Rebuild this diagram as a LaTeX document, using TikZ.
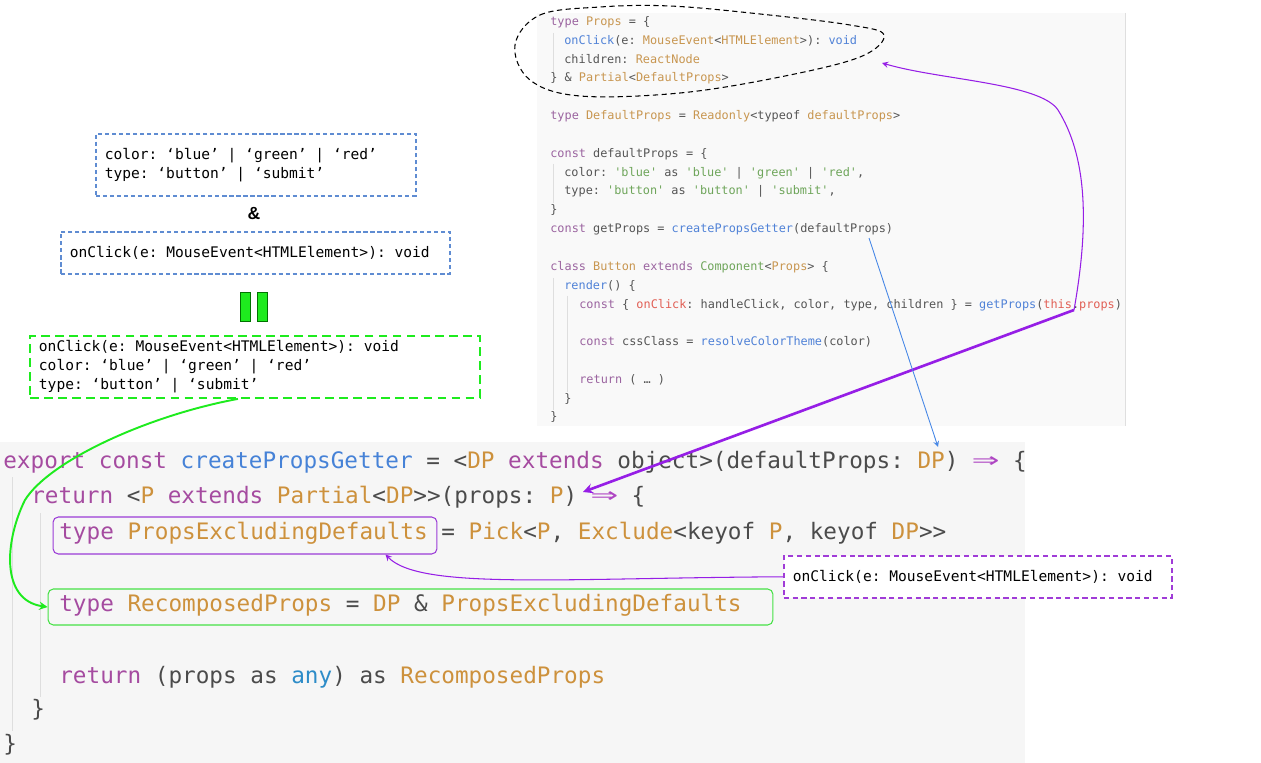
\documentclass[tikz,border=0pt]{standalone}
\usepackage{graphicx}
\usepackage{fontspec}
\setmonofont{DejaVu Sans Mono}
\newfontfamily\ampfont{Liberation Sans}
\usetikzlibrary{arrows, positioning}
\definecolor{panelgray}{RGB}{249,249,249}
\definecolor{mainpanel}{RGB}{246,246,246}
\definecolor{guidegray}{RGB}{222,222,222}
\definecolor{tkw}{RGB}{155,100,160}
\definecolor{tty}{RGB}{200,150,80}
\definecolor{tfn}{RGB}{80,130,215}
\definecolor{tstr}{RGB}{110,165,90}
\definecolor{tred}{RGB}{225,95,85}
\definecolor{tpl}{RGB}{85,85,85}
\definecolor{bkw}{RGB}{165,75,160}
\definecolor{bty}{RGB}{205,145,60}
\definecolor{bfn}{RGB}{70,130,215}
\definecolor{bpl}{RGB}{75,75,75}
\definecolor{bany}{RGB}{45,140,200}
\definecolor{barrow}{RGB}{175,70,195}
\definecolor{hintblue}{RGB}{95,140,210}
\definecolor{hintpurple}{RGB}{160,60,215}
\definecolor{hintgreen}{RGB}{30,235,30}
\definecolor{linkpurple}{RGB}{150,30,230}
\definecolor{linkblue}{RGB}{70,135,230}
\definecolor{boxpurple}{RGB}{155,60,215}
\definecolor{boxgreen}{RGB}{70,225,70}
\newcommand{\tkw}[1]{\textcolor{tkw}{#1}}
\newcommand{\tty}[1]{\textcolor{tty}{#1}}
\newcommand{\tfn}[1]{\textcolor{tfn}{#1}}
\newcommand{\tstr}[1]{\textcolor{tstr}{#1}}
\newcommand{\tred}[1]{\textcolor{tred}{#1}}
\newcommand{\bkw}[1]{\textcolor{bkw}{#1}}
\newcommand{\bty}[1]{\textcolor{bty}{#1}}
\newcommand{\bfn}[1]{\textcolor{bfn}{#1}}
\newcommand{\bany}[1]{\textcolor{bany}{#1}}
\newcommand{\fatarrow}{\textcolor{barrow}{\makebox[1.204em]{\scalebox{2.0}[1.2]{⇒}}}}

\begin{document}
\begin{tikzpicture}[
    x=0.02cm, y=-0.02cm,
    >=stealth,
    topcode/.style={anchor=base west, inner sep=0, text=tpl, font=\ttfamily\fontsize{6.75}{8}\selectfont},
    maincode/.style={anchor=base west, inner sep=0, text=bpl, font=\ttfamily\fontsize{12.9}{15}\selectfont},
    hintbox/.style={draw=hintblue, line width=0.9pt, dash pattern=on 2.4pt off 1.6pt, anchor=north west,
        align=left, inner xsep=0.18cm, inner ysep=0,
        font=\ttfamily\fontsize{8.3}{10.8}\selectfont,
        execute at begin node={\spaceskip=0pt\xspaceskip=0pt\relax}},
    mergedbox/.style={hintbox, draw=hintgreen, line width=1.1pt, dash pattern=on 5pt off 3pt},
    guide/.style={guidegray, line width=0.5pt},
    markbox/.style={draw, rounded corners=3pt, line width=0.6pt, inner sep=0},
    eqbar/.style={draw=green!45!black, fill=hintgreen, line width=0.5pt, inner sep=0,
        minimum width=0.2cm, minimum height=0.58cm},
    link/.style={->, linkpurple, line width=0.6pt},
    boldlink/.style={->, linkpurple, line width=1.5pt},
    bluelink/.style={->, linkblue, line width=0.5pt},
    greenlink/.style={->, hintgreen, line width=1.1pt}
]
    \useasboundingbox (0,0) rectangle (1261,763);

    % Panels
    \fill[panelgray] (537,13) rectangle (1125,426);
    \draw[gray!25] (1125,13) -- (1125,426);
    \fill[mainpanel] (0,442) rectangle (1025,763);

    % Indent guides
    \draw[guide] (553,33) -- (553,74);
    \draw[guide] (553,164) -- (553,203);
    \draw[guide] (553,278) -- (553,410);
    \draw[guide] (567,296) -- (567,392);
    \draw[guide] (12,477) -- (12,731);
    \draw[guide] (40,513) -- (40,697);

    % Component code (top right)
    \node[topcode] (propstype) at (550,26) {\tkw{type} \tty{Props} = \{};
    \node[topcode] (propsclick) at (564,45) {\tfn{onClick}(e: \tty{MouseEvent}<\tty{HTMLElement}>): \tfn{void}};
    \node[topcode] (propschildren) at (564,64) {children: \tty{ReactNode}};
    \node[topcode] (propsend) at (550,82) {\} \& \tty{Partial}<\tty{DefaultProps}>};
    \node[topcode] (defaultstype) at (550,120) {\tkw{type} \tty{DefaultProps} = \tty{Readonly}<typeof \tty{defaultProps}>};
    \node[topcode] (defaultsconst) at (550,158) {\tkw{const} defaultProps = \{};
    \node[topcode] (defaultscolor) at (564,177) {color: \tstr{'blue'} as \tstr{'blue'} | \tstr{'green'} | \tstr{'red'},};
    \node[topcode] (defaultskind) at (564,195) {type: \tstr{'button'} as \tstr{'button'} | \tstr{'submit'},};
    \node[topcode] (defaultsend) at (550,214) {\}};
    \node[topcode] (getprops) at (550,233) {\tkw{const} getProps = \tfn{createPropsGetter}(defaultProps)};
    \node[topcode] (buttonclass) at (550,271) {\tkw{class} \tty{Button} \tkw{extends} \tstr{Component}<\tty{Props}> \{};
    \node[topcode] (render) at (564,290) {\tfn{render}() \{};
    \node[topcode] (destructure) at (579,309) {\tkw{const} \{ \tred{onClick}: handleClick, color, type, children \} = \tfn{getProps}(\tred{this}.\tred{props})};
    \node[topcode] (cssclass) at (579,346) {\tkw{const} cssClass = \tfn{resolveColorTheme}(color)};
    \node[topcode] (renderreturn) at (579,384) {\tkw{return} ( … )};
    \node[topcode] (renderend) at (564,402) {\}};
    \node[topcode] (classend) at (550,420) {\}};

    % Hand drawn loop round Props
    \draw[black, line width=0.6pt, dash pattern=on 3pt off 2pt, tension=0.6]
        plot[smooth cycle] coordinates {(515,45) (540,15) (600,7) (670,6) (760,14) (850,25)
            (884,35) (860,57) (780,77) (680,93) (580,96) (530,80)};

    % Type breakdown (left)
    \node[hintbox, text width=6.04cm, minimum height=1.24cm] (defaultshint) at (95,133)
        {color: ‘blue’ | ‘green’ | ‘red’\\type: ‘button’ | ‘submit’};
    \node[font=\ampfont\bfseries\fontsize{10}{12}\selectfont, inner sep=0] (amp) at (254,214) {\&};
    \node[hintbox, text width=7.42cm, minimum height=0.84cm] (clickhint) at (60,231)
        {onClick(e: MouseEvent<HTMLElement>): void};
    \node[eqbar] (eqleft) at (245,306.5) {};
    \node[eqbar] (eqright) at (262.5,306.5) {};
    \node[mergedbox, text width=8.64cm, minimum height=1.24cm] (merged) at (29,335)
        {onClick(e: MouseEvent<HTMLElement>): void\\color: ‘blue’ | ‘green’ | ‘red’\\type: ‘button’ | ‘submit’};

    % Getter code (bottom)
    \node[maincode] (getterhead) at (3,468) {\bkw{export} \bkw{const} \bfn{createPropsGetter} = <\bty{DP} \bkw{extends} object>(defaultProps: \bty{DP}) \fatarrow{} \{};
    \node[maincode] (getterreturn) at (31,503) {\bkw{return} <\bty{P} \bkw{extends} \bty{Partial}<\bty{DP}>>(props: \bty{P}) \fatarrow{} \{};
    \node[maincode] (excltype) at (59,539) {\bkw{type} \bty{PropsExcludingDefaults} = \bty{Pick}<\bty{P}, \bty{Exclude}<keyof \bty{P}, keyof \bty{DP}>>};
    \node[maincode] (recomptype) at (59,611) {\bkw{type} \bty{RecomposedProps} = \bty{DP} \& \bty{PropsExcludingDefaults}};
    \node[maincode] (castreturn) at (59,683) {\bkw{return} (props as \bany{any}) as \bty{RecomposedProps}};
    \node[maincode] (innerend) at (31,716) {\}};
    \node[maincode] (outerend) at (3,751) {\}};

    \node[markbox, draw=boxpurple, minimum width=7.68cm, minimum height=0.74cm] (exclbox) at (245,535.5) {};
    \node[markbox, draw=boxgreen, minimum width=14.5cm, minimum height=0.72cm] (recomp) at (410.5,607) {};
    \node[hintbox, draw=hintpurple, dash pattern=on 3pt off 2pt, text width=7.4cm, minimum height=0.84cm,
        fill=white] (onclickhint) at (783,555) {onClick(e: MouseEvent<HTMLElement>): void};

    % Link points
    \coordinate (thisprops) at (1074,310);
    \coordinate (purplebend) at (1058,110);
    \coordinate (propsell) at (882,63);
    \coordinate (propsarg) at (583,492);
    \coordinate (getterarg) at (869,238);
    \coordinate (dpparam) at (938,447);
    \coordinate (greenbend) at (25,500);

    % Arrows
    \draw[link] (thisprops) .. controls (1090,220) and (1086,155) .. (purplebend)
        .. controls (1040,83) and (940,80) .. (propsell);
    \draw[boldlink] (thisprops) -- (propsarg);
    \draw[bluelink] (getterarg) -- (dpparam);
    \draw[greenlink] ([xshift=-0.34cm]merged.south) .. controls (150,415) and (50,460) .. (greenbend)
        .. controls (5,540) and (0,600) .. (recomp.west);
    \draw[link] (onclickhint.west) .. controls (560,578) and (420,590) .. ([xshift=-1.04cm]exclbox.south east);
\end{tikzpicture}
\end{document}
